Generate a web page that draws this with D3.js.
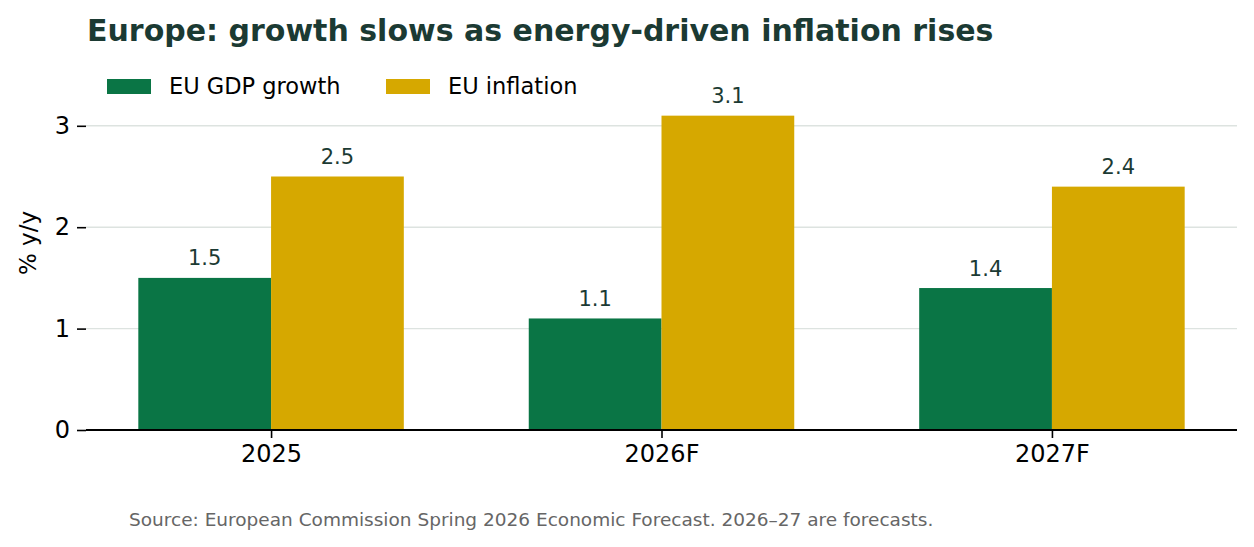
<!DOCTYPE html>
<html><head><meta charset="utf-8">
<script src="https://cdn.jsdelivr.net/npm/d3@7"></script>
<style>body{margin:0;background:#fff}svg{display:block}text{font-family:"DejaVu Sans",sans-serif}</style>
</head><body><div id="chart"></div>
<script>
const categories = ["2025", "2026F", "2027F"];
const gdpGrowth = [1.5, 1.1, 1.4];
const inflation = [2.5, 3.1, 2.4];
const seriesNames = ["EU GDP growth", "EU inflation"];
const yTicks = [0, 1, 2, 3];
const titleText = "Europe: growth slows as energy-driven inflation rises";
const sourceText = "Source: European Commission Spring 2026 Economic Forecast. 2026–27 are forecasts.";

const W = 1254, H = 547;
const colors = ["#0a7545", "#d6a800"];
const left = 86, right = 1237, bottom = 430;
const svg = d3.select("#chart").append("svg").attr("width", W).attr("height", H);

const x = d3.scaleLinear().domain([-0.474, categories.length - 1 + 0.474]).range([left, right]);
const y = d3.scaleLinear().domain([0, 3.41]).range([bottom, bottom - 3.41 * 101.4]);
const bw = 0.34;

// grid
svg.append("g").selectAll("line").data(yTicks.filter(d => d > 0)).join("line")
  .attr("x1", left).attr("x2", right).attr("y1", d => y(d)).attr("y2", d => y(d))
  .attr("stroke", "#dde3e0").attr("stroke-width", 1.4);

const series = [gdpGrowth, inflation];
series.forEach((vals, s) => {
  const g = svg.append("g");
  g.selectAll("rect").data(vals).join("rect")
    .attr("x", (d, i) => x(i + (s === 0 ? -bw : 0)))
    .attr("width", (d, i) => x(i + bw) - x(i))
    .attr("y", d => y(d)).attr("height", d => y(0) - y(d))
    .attr("fill", colors[s]);
  g.selectAll("text").data(vals).join("text")
    .attr("x", (d, i) => x(i + (s === 0 ? -bw / 2 : bw / 2)))
    .attr("y", d => y(d) - 12.5)
    .attr("text-anchor", "middle").attr("font-size", 21).attr("fill", "#1b3a33")
    .text(d => d.toFixed(1));
});

// y axis
const yAxis = d3.axisLeft(y).tickValues(yTicks).tickSize(9).tickPadding(7).tickFormat(d3.format("d"));
const ya = svg.append("g").attr("transform", `translate(${left},0)`).call(yAxis);
ya.select(".domain").remove();
ya.selectAll(".tick line").attr("stroke", "#000").attr("stroke-width", 1.6);
ya.selectAll(".tick text").attr("font-size", 24).attr("fill", "#000").attr("font-family", "DejaVu Sans");

// x axis
const xAxis = d3.axisBottom(x).tickValues(categories.map((d, i) => i)).tickFormat(i => categories[i]).tickSize(8).tickPadding(7);
const xa = svg.append("g").attr("transform", `translate(0,${bottom})`).call(xAxis);
xa.select(".domain").attr("d", `M${left},0H${right}`).attr("stroke", "#000").attr("stroke-width", 1.8);
xa.selectAll(".tick line").attr("stroke", "#000").attr("stroke-width", 1.6);
xa.selectAll(".tick text").attr("font-size", 24).attr("fill", "#000").attr("font-family", "DejaVu Sans");

// y label
svg.append("text").attr("transform", "translate(36,243) rotate(-90)").attr("text-anchor", "middle")
  .attr("font-size", 23).attr("fill", "#000").text("% y/y");

// title
svg.append("text").attr("x", 87).attr("y", 41).attr("font-size", 30).attr("font-weight", "bold")
  .attr("fill", "#1b3a33").text(titleText);

// legend
const legX = [107, 386];
seriesNames.forEach((n, s) => {
  svg.append("rect").attr("x", legX[s]).attr("y", 79).attr("width", 44).attr("height", 15).attr("fill", colors[s]);
  svg.append("text").attr("x", legX[s] + 62).attr("y", 94).attr("font-size", 22.5).attr("fill", "#000").text(n);
});

// source
svg.append("text").attr("x", 129).attr("y", 526).attr("font-size", 18.5).attr("fill", "#666").text(sourceText);
</script></body></html>
